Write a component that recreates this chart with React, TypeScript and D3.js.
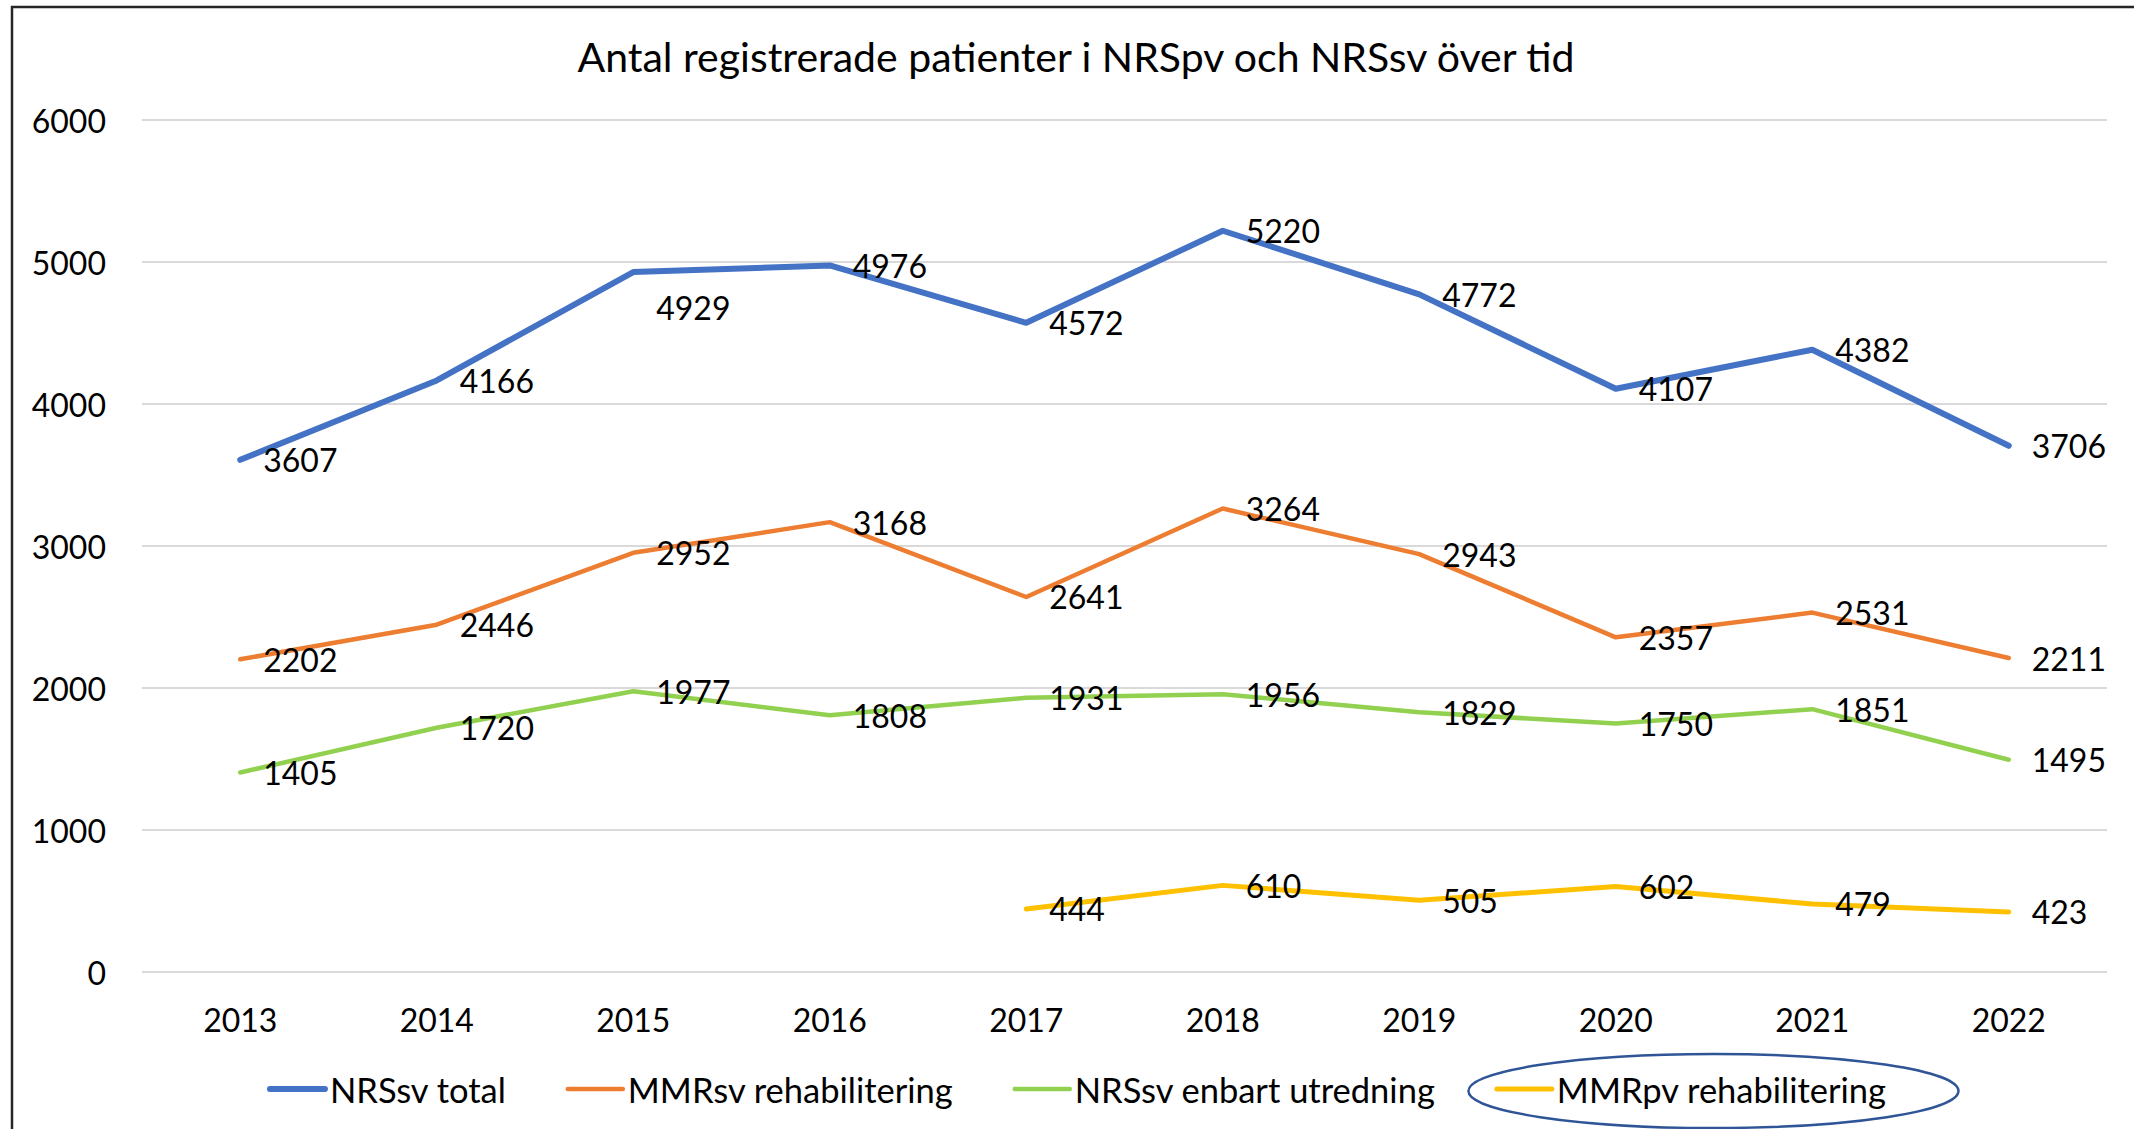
import React, { useEffect, useRef } from "react";
import * as d3 from "d3";

const years = ["2013", "2014", "2015", "2016", "2017", "2018", "2019", "2020", "2021", "2022"];
const nrsTotal = [3607, 4166, 4929, 4976, 4572, 5220, 4772, 4107, 4382, 3706];
const mmrSv = [2202, 2446, 2952, 3168, 2641, 3264, 2943, 2357, 2531, 2211];
const nrsUtredning = [1405, 1720, 1977, 1808, 1931, 1956, 1829, 1750, 1851, 1495];
const mmrPv: (number | null)[] = [null, null, null, null, 444, 610, 505, 602, 479, 423];
const yTicks = [0, 1000, 2000, 3000, 4000, 5000, 6000];

const seriesNames = ["NRSsv total", "MMRsv rehabilitering", "NRSsv enbart utredning", "MMRpv rehabilitering"];
const seriesColors = ["#4472C4", "#ED7D31", "#92D050", "#FFC000"];
const seriesWidths = [6, 4.5, 4.5, 5];
const title = "Antal registrerade patienter i NRSpv och NRSsv över tid";

const W = 2134;
const H = 1129;
const FONT = "Lato, 'Open Sans', sans-serif";

export default function App() {
  const ref = useRef<SVGSVGElement | null>(null);

  useEffect(() => {
    const svg = d3.select(ref.current);
    svg.selectAll("*").remove();

    const left = 142, right = 2107, top = 120, bottom = 972;
    const x = d3.scaleBand<string>().domain(years).range([left, right]);
    const y = d3.scaleLinear().domain([0, 6000]).range([bottom, top]);
    const cx = (yr: string) => (x(yr) as number) + x.bandwidth() / 2;

    svg.append("rect").attr("x", 0).attr("y", 0).attr("width", W).attr("height", H).attr("fill", "#fff");
    // frame
    svg.append("rect").attr("x", 12).attr("y", 7).attr("width", W + 50).attr("height", H + 50)
      .attr("fill", "none").attr("stroke", "#262626").attr("stroke-width", 2.5);

    // title
    svg.append("text").attr("x", 1076).attr("y", 56).attr("text-anchor", "middle")
      .attr("dominant-baseline", "central").attr("font-family", FONT).attr("font-size", 41)
      .attr("fill", "#000").text(title);

    // gridlines
    const g = svg.append("g");
    g.selectAll("line.grid").data(yTicks).join("line")
      .attr("x1", left).attr("x2", right).attr("y1", (d) => y(d)).attr("y2", (d) => y(d))
      .attr("stroke", "#D9D9D9").attr("stroke-width", 2);

    g.selectAll("text.ytick").data(yTicks).join("text")
      .attr("x", 106).attr("y", (d) => y(d)).attr("text-anchor", "end")
      .attr("dominant-baseline", "central").attr("font-family", FONT).attr("font-size", 32)
      .attr("fill", "#000").text((d) => String(d));

    g.selectAll("text.xtick").data(years).join("text")
      .attr("x", (d) => cx(d)).attr("y", 1019).attr("text-anchor", "middle")
      .attr("dominant-baseline", "central").attr("font-family", FONT).attr("font-size", 32)
      .attr("fill", "#000").text((d) => d);

    const allSeries = [nrsTotal, mmrSv, nrsUtredning, mmrPv];
    allSeries.forEach((vals, si) => {
      const pts = years.map((yr, i) => ({ yr, v: vals[i] as number | null }));
      const line = d3.line<{ yr: string; v: number | null }>()
        .defined((d) => d.v != null)
        .x((d) => cx(d.yr)).y((d) => y(d.v as number));
      svg.append("path").datum(pts).attr("d", line).attr("fill", "none")
        .attr("stroke", seriesColors[si]).attr("stroke-width", seriesWidths[si])
        .attr("stroke-linejoin", "round").attr("stroke-linecap", "round");
    });

    allSeries.forEach((vals, si) => {
      const pts = years.map((yr, i) => ({ yr, v: vals[i] as number | null })).filter((d) => d.v != null);
      svg.append("g").selectAll("text").data(pts).join("text")
        .attr("x", (d) => cx(d.yr) + 23)
        .attr("y", (d) => y(d.v as number) + (si === 0 && d.yr === "2015" ? 35 : 0))
        .attr("dominant-baseline", "central").attr("font-family", FONT).attr("font-size", 32)
        .attr("fill", "#000").text((d) => String(d.v));
    });

    // legend
    const ly = 1089;
    const lg = svg.append("g");
    const sampleW = 55, gapText = 5, gapItem = 62;
    const items: { x0: number; w: number }[] = [];
    let xcur = 0;
    seriesNames.forEach((name, i) => {
      const it = lg.append("g");
      it.append("line").attr("x1", xcur).attr("x2", xcur + sampleW).attr("y1", ly).attr("y2", ly)
        .attr("stroke", seriesColors[i]).attr("stroke-width", seriesWidths[i]).attr("stroke-linecap", "round");
      const t = it.append("text").attr("x", xcur + sampleW + gapText).attr("y", ly)
        .attr("dominant-baseline", "central").attr("font-family", FONT).attr("font-size", 34.5)
        .attr("fill", "#000").text(name);
      const tw = (t.node() as SVGTextElement).getComputedTextLength();
      const w = sampleW + gapText + tw;
      items.push({ x0: xcur, w });
      xcur += w + gapItem;
    });
    const totalW = xcur - gapItem;
    const shift = 1078 - totalW / 2;
    lg.attr("transform", `translate(${shift},0)`);
    const last = items[3];
    lg.append("ellipse").attr("cx", last.x0 + last.w / 2 + 22).attr("cy", 1091)
      .attr("rx", 245).attr("ry", 37).attr("fill", "none").attr("stroke", "#2F5597").attr("stroke-width", 2.5);
  }, []);

  return (
    <svg ref={ref} width={W} height={H} style={{ position: "absolute", left: 0, top: 0 }} />
  );
}
